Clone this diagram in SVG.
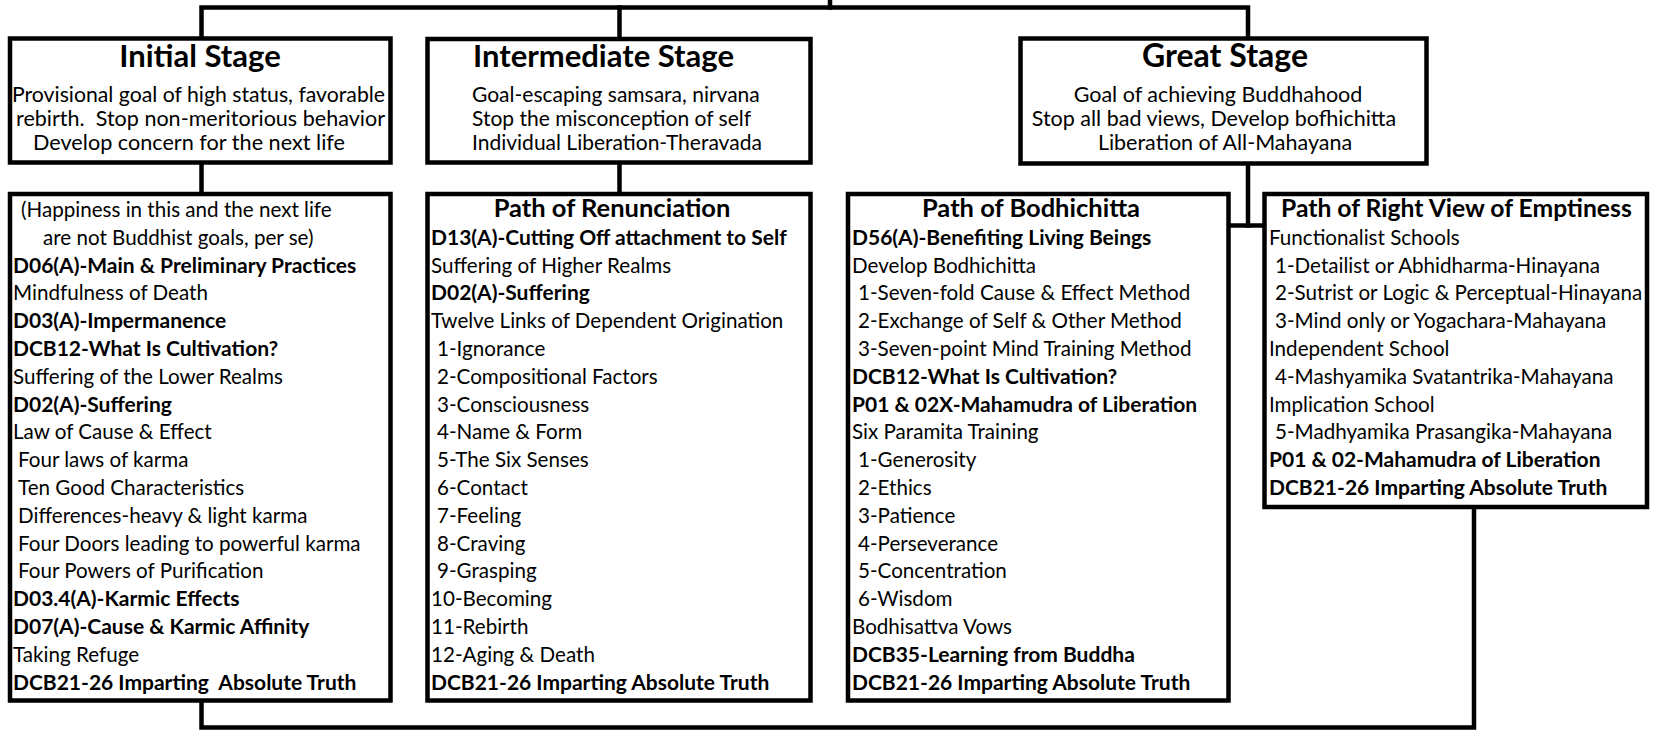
<svg xmlns="http://www.w3.org/2000/svg" width="1664" height="730" viewBox="0 0 1664 730" xml:space="preserve">
<style>
  .box { fill: #ffffff; stroke: #000000; stroke-width: 4.5; }
  .conn { fill: none; stroke: #000000; stroke-width: 4.5; stroke-linejoin: miter; stroke-linecap: square; }
  text { font-family: Lato, "Open Sans", "Liberation Sans", sans-serif; fill: #000000; white-space: pre; }
  .st { font-size: 31px; font-weight: 700; }
  .sb { font-size: 21px; }
  .gb { font-size: 21.5px; }
  .pt { font-size: 25.5px; font-weight: 700; }
  .t { font-size: 20.6px; }
  .b { font-size: 21px; font-weight: 700; }
  .mid { text-anchor: middle; }
</style>
<rect width="1664" height="730" fill="#ffffff"/>
<g id="connectors">
  <path class="conn" d="M201.5,38.5 V7.5 H1248 V38.5"/>
  <path class="conn" d="M619.5,7.5 V39"/>
  <path class="conn" d="M830,0 V7.5"/>
  <path class="conn" d="M201.5,162.5 V194"/>
  <path class="conn" d="M619.5,162.5 V194"/>
  <path class="conn" d="M1248,163.5 V225.5"/>
  <path class="conn" d="M1228.5,225.5 H1264.5"/>
  <path class="conn" d="M201.5,700.5 V727.5 H1474 V507"/>
</g>
<g id="initial-stage">
  <rect class="box" x="10" y="38.5" width="380.5" height="124"/>
  <text class="st mid" x="200" y="67">Initial Stage</text>
  <text class="sb" x="12" y="102" textLength="373" lengthAdjust="spacingAndGlyphs">Provisional goal of high status, favorable</text>
  <text class="sb" x="16" y="126" textLength="369" lengthAdjust="spacingAndGlyphs">rebirth.  Stop non-meritorious behavior</text>
  <text class="sb" x="33" y="150" textLength="312" lengthAdjust="spacingAndGlyphs">Develop concern for the next life</text>
</g>
<g id="intermediate-stage">
  <rect class="box" x="427.5" y="39" width="383" height="123.5"/>
  <text class="st" x="473" y="67">Intermediate Stage</text>
  <text class="sb" x="472" y="102">Goal-escaping samsara, nirvana</text>
  <text class="sb" x="472" y="126">Stop the misconception of self</text>
  <text class="sb" x="472" y="150">Individual Liberation-Theravada</text>
</g>
<g id="great-stage">
  <rect class="box" x="1020.5" y="38.5" width="406" height="125"/>
  <text class="st mid" x="1225" y="67" style="font-size:32px">Great Stage</text>
  <text class="gb mid" x="1218" y="102">Goal of achieving Buddhahood</text>
  <text class="gb mid" x="1214" y="126">Stop all bad views, Develop bofhichitta</text>
  <text class="gb mid" x="1225" y="150">Liberation of All-Mahayana</text>
</g>
<g id="initial-path">
  <rect class="box" x="10" y="194" width="380.5" height="506.5"/>
  <text class="t" x="21" y="217">(Happiness in this and the next life</text>
  <text class="t" x="43" y="244.8">are not Buddhist goals, per se)</text>
  <text class="b" x="13" y="272.6">D06(A)-Main &amp; Preliminary Practices</text>
  <text class="t" x="13" y="300.4">Mindfulness of Death</text>
  <text class="b" x="13" y="328.2">D03(A)-Impermanence</text>
  <text class="b" x="13" y="356">DCB12-What Is Cultivation?</text>
  <text class="t" x="13" y="383.8">Suffering of the Lower Realms</text>
  <text class="b" x="13" y="411.6">D02(A)-Suffering</text>
  <text class="t" x="13" y="439.4">Law of Cause &amp; Effect</text>
  <text class="t" x="18" y="467.2">Four laws of karma</text>
  <text class="t" x="18" y="495">Ten Good Characteristics</text>
  <text class="t" x="18" y="522.8">Differences-heavy &amp; light karma</text>
  <text class="t" x="18" y="550.6">Four Doors leading to powerful karma</text>
  <text class="t" x="18" y="578.4">Four Powers of Purification</text>
  <text class="b" x="13" y="606.2">D03.4(A)-Karmic Effects</text>
  <text class="b" x="13" y="634">D07(A)-Cause &amp; Karmic Affinity</text>
  <text class="t" x="13" y="661.8">Taking Refuge</text>
  <text class="b" x="13" y="689.6">DCB21-26 Imparting  Absolute Truth</text>
</g>
<g id="path-of-renunciation">
  <rect class="box" x="427.5" y="194" width="383" height="506.5"/>
  <text class="pt mid" x="612" y="217">Path of Renunciation</text>
  <text class="b" x="431" y="244.8">D13(A)-Cutting Off attachment to Self</text>
  <text class="t" x="431" y="272.6">Suffering of Higher Realms</text>
  <text class="b" x="431" y="300.4">D02(A)-Suffering</text>
  <text class="t" x="431" y="328.2">Twelve Links of Dependent Origination</text>
  <text class="t" x="437" y="356">1-Ignorance</text>
  <text class="t" x="437" y="383.8">2-Compositional Factors</text>
  <text class="t" x="437" y="411.6">3-Consciousness</text>
  <text class="t" x="437" y="439.4">4-Name &amp; Form</text>
  <text class="t" x="437" y="467.2">5-The Six Senses</text>
  <text class="t" x="437" y="495">6-Contact</text>
  <text class="t" x="437" y="522.8">7-Feeling</text>
  <text class="t" x="437" y="550.6">8-Craving</text>
  <text class="t" x="437" y="578.4">9-Grasping</text>
  <text class="t" x="431" y="606.2">10-Becoming</text>
  <text class="t" x="431" y="634">11-Rebirth</text>
  <text class="t" x="431" y="661.8">12-Aging &amp; Death</text>
  <text class="b" x="431" y="689.6">DCB21-26 Imparting Absolute Truth</text>
</g>
<g id="path-of-bodhichitta">
  <rect class="box" x="848" y="194" width="380.5" height="506.5"/>
  <text class="pt mid" x="1031" y="217">Path of Bodhichitta</text>
  <text class="b" x="852" y="244.8">D56(A)-Benefiting Living Beings</text>
  <text class="t" x="852" y="272.6">Develop Bodhichitta</text>
  <text class="t" x="858" y="300.4">1-Seven-fold Cause &amp; Effect Method</text>
  <text class="t" x="858" y="328.2">2-Exchange of Self &amp; Other Method</text>
  <text class="t" x="858" y="356">3-Seven-point Mind Training Method</text>
  <text class="b" x="852" y="383.8">DCB12-What Is Cultivation?</text>
  <text class="b" x="852" y="411.6">P01 &amp; 02X-Mahamudra of Liberation</text>
  <text class="t" x="852" y="439.4">Six Paramita Training</text>
  <text class="t" x="858" y="467.2">1-Generosity</text>
  <text class="t" x="858" y="495">2-Ethics</text>
  <text class="t" x="858" y="522.8">3-Patience</text>
  <text class="t" x="858" y="550.6">4-Perseverance</text>
  <text class="t" x="858" y="578.4">5-Concentration</text>
  <text class="t" x="858" y="606.2">6-Wisdom</text>
  <text class="t" x="852" y="634">Bodhisattva Vows</text>
  <text class="b" x="852" y="661.8">DCB35-Learning from Buddha</text>
  <text class="b" x="852" y="689.6">DCB21-26 Imparting Absolute Truth</text>
</g>
<g id="path-of-right-view">
  <rect class="box" x="1264.5" y="194" width="382.5" height="313"/>
  <text class="pt" x="1281" y="217" style="font-size:24.7px">Path of Right View of Emptiness</text>
  <text class="t" x="1269" y="244.8">Functionalist Schools</text>
  <text class="t" x="1275" y="272.6">1-Detailist or Abhidharma-Hinayana</text>
  <text class="t" x="1275" y="300.4">2-Sutrist or Logic &amp; Perceptual-Hinayana</text>
  <text class="t" x="1275" y="328.2">3-Mind only or Yogachara-Mahayana</text>
  <text class="t" x="1269" y="356">Independent School</text>
  <text class="t" x="1275" y="383.8">4-Mashyamika Svatantrika-Mahayana</text>
  <text class="t" x="1269" y="411.6">Implication School</text>
  <text class="t" x="1275" y="439.4">5-Madhyamika Prasangika-Mahayana</text>
  <text class="b" x="1269" y="467.2">P01 &amp; 02-Mahamudra of Liberation</text>
  <text class="b" x="1269" y="495">DCB21-26 Imparting Absolute Truth</text>
</g>
</svg>
